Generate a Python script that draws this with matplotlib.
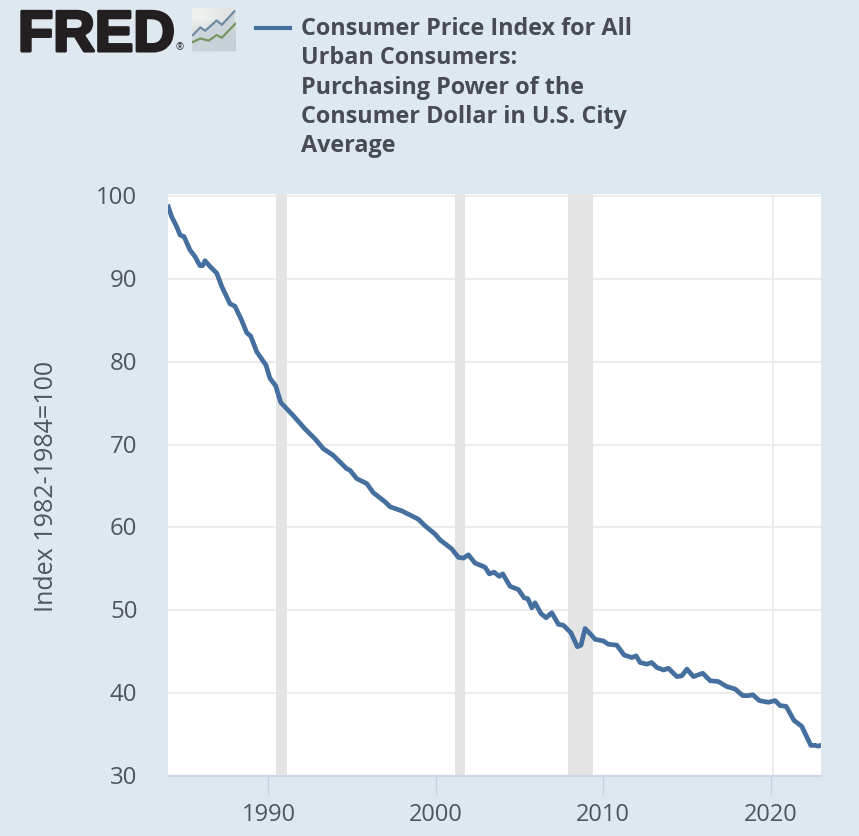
import matplotlib
matplotlib.use("Agg")
import matplotlib.pyplot as plt
import matplotlib.patheffects as pe
from matplotlib.colors import LinearSegmentedColormap
from matplotlib.transforms import ScaledTranslation

# Purchasing power of the dollar
years = [
    1984.02, 1984.22, 1984.52, 1984.72, 1984.96, 1985.31, 1985.61, 1985.91, 1986.07, 1986.21,
    1986.51, 1986.91, 1987.21, 1987.70, 1988.00, 1988.40, 1988.70, 1988.94, 1989.30, 1989.85,
    1990.09, 1990.43, 1990.73, 1991.48, 1992.18, 1992.78, 1993.28, 1993.87, 1994.67, 1994.87,
    1995.27, 1995.87, 1996.26, 1996.96, 1997.26, 1997.96, 1998.95, 1999.35, 1999.95, 2000.25,
    2000.95, 2001.34, 2001.64, 2001.94, 2002.34, 2002.94, 2003.19, 2003.47, 2003.79, 2003.99,
    2004.43, 2004.93, 2005.27, 2005.49, 2005.73, 2005.92, 2006.28, 2006.58, 2006.92, 2007.32,
    2007.61, 2008.06, 2008.45, 2008.67, 2008.91, 2009.25, 2009.51, 2010.00, 2010.30, 2010.80,
    2011.24, 2011.70, 2011.96, 2012.20, 2012.60, 2012.89, 2013.19, 2013.59, 2013.89, 2014.39,
    2014.69, 2014.99, 2015.38, 2015.94, 2016.38, 2016.87, 2017.37, 2017.87, 2018.33, 2018.67,
    2018.93, 2019.32, 2019.86, 2020.26, 2020.56, 2020.92, 2021.39, 2021.85, 2022.39, 2022.65,
    2022.83, 2023.00,
]
values = [
    98.7, 97.5, 96.3, 95.3, 95.1, 93.5, 92.7, 91.6, 91.6, 92.2,
    91.5, 90.7, 89.1, 87.0, 86.7, 85.0, 83.5, 83.1, 81.2, 79.6,
    78.0, 77.1, 75.1, 73.5, 71.9, 70.7, 69.5, 68.7, 67.1, 66.9,
    65.9, 65.3, 64.2, 63.1, 62.5, 62.0, 61.0, 60.2, 59.2, 58.5,
    57.4, 56.4, 56.3, 56.7, 55.7, 55.2, 54.4, 54.6, 54.1, 54.4,
    52.9, 52.5, 51.5, 51.4, 50.3, 50.9, 49.6, 49.1, 49.7, 48.3,
    48.2, 47.3, 45.6, 45.8, 47.8, 47.1, 46.5, 46.3, 45.9, 45.8,
    44.6, 44.3, 44.5, 43.7, 43.5, 43.7, 43.1, 42.8, 43.0, 42.0,
    42.1, 42.9, 42.0, 42.4, 41.5, 41.4, 40.8, 40.5, 39.7, 39.7,
    39.8, 39.1, 38.9, 39.1, 38.5, 38.4, 36.7, 36.0, 33.7, 33.7,
    33.6, 33.7,
]

recessions = [(1990.45, 1991.09), (2001.14, 2001.74), (2007.91, 2009.37)]
x_ticks = [1990, 2000, 2010, 2020]
y_ticks = [30, 40, 50, 60, 70, 80, 90, 100]
title_lines = [
    "Consumer Price Index for All",
    "Urban Consumers:",
    "Purchasing Power of the",
    "Consumer Dollar in U.S. City",
    "Average",
]

# Logo sparklines
logo_blue_x = [0.02, 0.19, 0.30, 0.56, 0.68, 0.96]
logo_blue_y = [0.37, 0.55, 0.47, 0.71, 0.61, 0.92]
logo_green_x = [0.02, 0.19, 0.38, 0.56, 0.68, 0.98]
logo_green_y = [0.21, 0.29, 0.24, 0.37, 0.31, 0.63]

W, H = 859, 837
BG = "#dde8f0"
TEXT = "#50555c"
LINE = "#446f9f"

plt.rcParams["font.family"] = ["Open Sans", "DejaVu Sans"]

fig = plt.figure(figsize=(W / 100, H / 100), dpi=100, facecolor=BG)
ax = fig.add_axes([168 / W, 1 - 777 / H, 653 / W, 582 / H])
ax.set_xlim(1984, 2023)
ax.set_ylim(30, 100.25)

for start, end in recessions:
    ax.axvspan(start, end, color="#e4e4e4", lw=0, zorder=2)

ax.yaxis.grid(True, color="#ececec", lw=1.5, zorder=1)
ax.axvline(2020.15, color="#ececec", lw=1.5, zorder=1)
ax.plot(years, values, color=LINE, lw=3.4, zorder=3, solid_joinstyle="round")

ax.set_xticks(x_ticks)
ax.set_yticks(y_ticks)
ax.tick_params(axis="x", length=14, width=1, color="#c8d3e0", pad=5, labelsize=17, labelcolor=TEXT)
ax.tick_params(axis="y", length=0, pad=22, labelsize=17.3, labelcolor=TEXT)
up = ScaledTranslation(0, 1.5 / 72, fig.dpi_scale_trans)
for label in ax.get_yticklabels():
    label.set_transform(label.get_transform() + up)
for side in ["top", "left", "right"]:
    ax.spines[side].set_visible(False)
ax.spines["bottom"].set_color("#ccd6e4")
ax.spines["bottom"].set_linewidth(1.5)

fig.text(47 / W, 1 - 486 / H, "Index 1982-1984=100", rotation=90, ha="center", va="center",
         fontsize=18, color=TEXT)

# Legend key and title
fig.add_artist(plt.Line2D([256 / W, 290 / W], [1 - 29 / H, 1 - 29 / H], color=LINE, lw=3.0))
for i, line in enumerate(title_lines):
    fig.text(301 / W, 1 - (29 + i * 29.3) / H, line, ha="left", va="center",
             fontsize=16.8, fontweight="bold", color="#484c52")

# FRED logo
fig.text(18 / W, 1 - 52 / H, "FRED", ha="left", va="baseline", family="Liberation Sans",
         fontsize=41.5, fontweight="bold", color="#231f20",
         path_effects=[pe.withStroke(linewidth=2.2, foreground="#231f20")])
fig.text(180 / W, 1 - 48 / H, "®", ha="center", va="center", fontsize=7, color="#231f20")

icon = fig.add_axes([192 / W, 1 - 52 / H, 44 / W, 43 / H])
fade = LinearSegmentedColormap.from_list("fade", ["#eef0ee", "#c6cbcc"])
icon.imshow([[0.0, 0.3], [0.7, 1.0]], cmap=fade, extent=(0, 1, 0, 1), aspect="auto",
            interpolation="bilinear")
icon.set_xlim(0, 1)
icon.set_ylim(0, 1)
icon.axis("off")
icon.fill_between(logo_blue_x, 0, logo_blue_y, color="#c9d3da", lw=0, alpha=0.8)
icon.plot(logo_blue_x, logo_blue_y, color="#6f8ba3", lw=1.6)
icon.plot(logo_green_x, logo_green_y, color="#76955f", lw=1.6)

fig.savefig("out.png", dpi=100, facecolor=BG)
